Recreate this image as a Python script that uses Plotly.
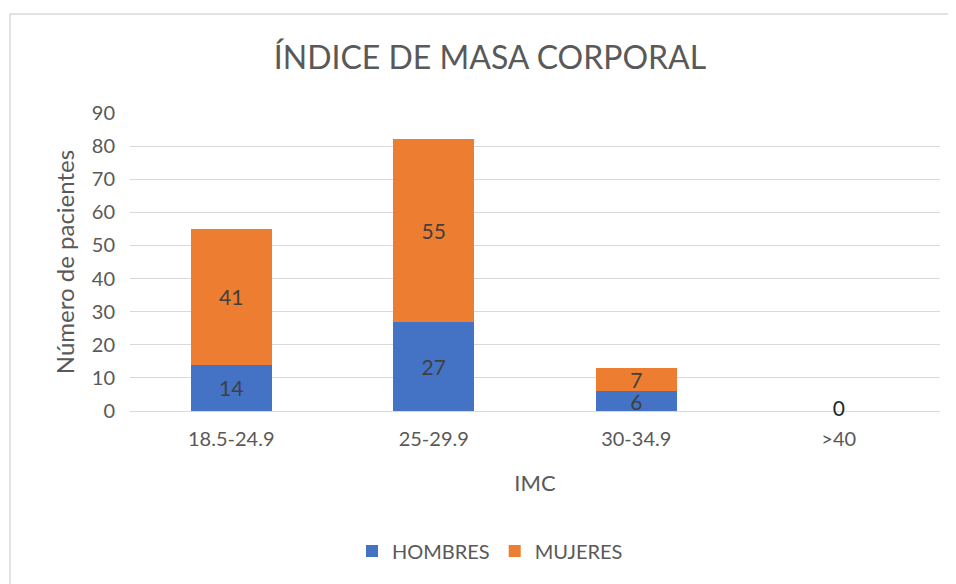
import plotly.graph_objects as go

categories = ["18.5-24.9", "25-29.9", "30-34.9", ">40"]
hombres = [14, 27, 6, 0]
mujeres = [41, 55, 7, 0]

FONT = "Lato, Open Sans, sans-serif"
GREY = "#595959"
LABEL = "#404040"

# page body has an 8px margin; figure coordinates = reference - 8
W, H = 948, 576
OFF = 8
PL, PR, PT, PB = 130 - OFF, 940 - OFF, 113 - OFF, 411 - OFF


def inside_text(vals):
    return [str(v) if v != 0 else "" for v in vals]


fig = go.Figure()
fig.add_trace(go.Bar(
    x=categories, y=hombres, name="HOMBRES",
    marker=dict(color="#4472C4", line=dict(width=0)),
    text=inside_text(hombres), textposition="inside", insidetextanchor="middle",
    constraintext="none", cliponaxis=False,
    textfont=dict(family=FONT, size=21, color=LABEL), textangle=0,
    hoverinfo="x+y+name",
))
fig.add_trace(go.Bar(
    x=categories, y=mujeres, name="MUJERES",
    marker=dict(color="#ED7D31", line=dict(width=0)),
    text=inside_text(mujeres), textposition="inside", insidetextanchor="middle",
    constraintext="none", cliponaxis=False,
    textfont=dict(family=FONT, size=21, color=LABEL), textangle=0,
    hoverinfo="x+y+name",
))
# zero-value labels, centred on the baseline as in the original
zero_x = [c for c, h, m in zip(categories, hombres, mujeres) if h + m == 0]
zero_y = [h + m for c, h, m in zip(categories, hombres, mujeres) if h + m == 0]
fig.add_trace(go.Scatter(
    x=zero_x, y=zero_y, mode="text", text=[str(v) for v in zero_y],
    textposition="middle center", cliponaxis=False,
    textfont=dict(family=FONT, size=21, color="#262626"),
    showlegend=False, hoverinfo="skip",
))

fig.update_layout(
    width=W, height=H,
    barmode="stack", bargap=0.6,
    paper_bgcolor="white", plot_bgcolor="white",
    font=dict(family=FONT, color=GREY, size=18),
    margin=dict(l=PL, r=W - PR, t=PT, b=H - PB),
    title=dict(text="ÍNDICE DE MASA CORPORAL", font=dict(family=FONT, size=32, color=GREY),
               x=(490 - OFF) / W, xanchor="center", xref="container",
               y=1 - (58 - OFF) / H, yanchor="middle", yref="container"),
    legend=dict(orientation="h", x=(490 - 130) / 810, xanchor="center",
                y=(411 - 551) / 298, yanchor="middle",
                font=dict(family=FONT, size=20, color=GREY), itemwidth=30,
                traceorder="normal"),
    shapes=[dict(type="rect", xref="paper", yref="paper",
                 x0=(10 - 130) / 810, x1=(990 - 130) / 810,
                 y0=(411 - 620) / 298, y1=(411 - 14) / 298,
                 line=dict(color="#D9D9D9", width=1.5), fillcolor="rgba(0,0,0,0)", layer="below")],
)
fig.update_xaxes(
    showgrid=False, showline=False, ticks="", ticklabelstandoff=14,
    tickfont=dict(family=FONT, size=20, color=GREY),
    title=dict(text="IMC", font=dict(family=FONT, size=22, color=GREY), standoff=26),
)
fig.update_yaxes(
    range=[0, 90], dtick=10, showgrid=True, gridcolor="#D9D9D9", gridwidth=1.3,
    zeroline=True, zerolinecolor="#D9D9D9", zerolinewidth=1.3,
    ticks="", ticklabelstandoff=14,
    tickfont=dict(family=FONT, size=20, color=GREY),
    title=dict(text="Número de pacientes", font=dict(family=FONT, size=24, color=GREY), standoff=10),
)

fig.write_html("out.html")
